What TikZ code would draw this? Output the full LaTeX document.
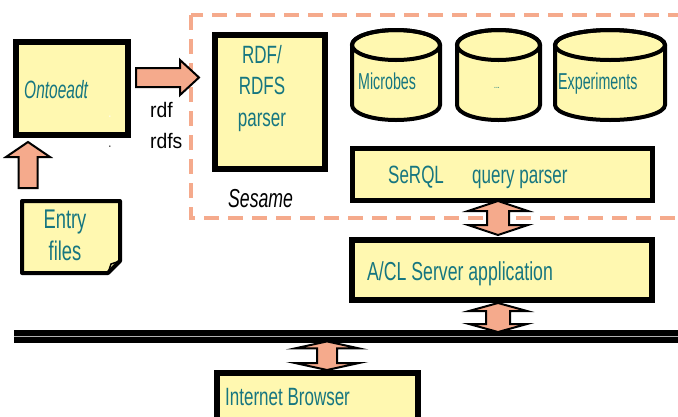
\documentclass[tikz,border=0pt]{standalone}
\usepackage{fontspec}
\setmainfont{Liberation Sans}[FakeStretch=0.68]
\newfontfamily\plainfont{Liberation Sans}[FakeStretch=0.92]
\newfontfamily\narrowfont{Liberation Sans}[FakeStretch=0.62]
\usetikzlibrary{calc}
\definecolor{yel}{RGB}{255,248,176}
\definecolor{salmon}{RGB}{245,170,140}
\definecolor{tealtxt}{RGB}{22,118,128}
\newcommand\vdouble[5]{%
  \filldraw[blockarrow] let \p1=#1, \p2=#2 in
  (\x1,\y1) -- (\x1+#4,\y1-#5) -- (\x1+#3,\y1-#5) -- (\x1+#3,\y2+#5) -- (\x1+#4,\y2+#5)
  -- (\x1,\y2) -- (\x1-#4,\y2+#5) -- (\x1-#3,\y2+#5) -- (\x1-#3,\y1-#5) -- (\x1-#4,\y1-#5) -- cycle;}
\newcommand\dbcyl[4]{%
  \pgfmathsetmacro\cx{(#1+#2)/2}\pgfmathsetmacro\rx{(#2-#1)/2}
  \filldraw[fill=yel, draw=black, line width=4pt] (#1,#3+15) -- (#1,#4-15)
    arc[start angle=180, end angle=0, x radius=\rx, y radius=15] -- (#2,#3+15)
    arc[start angle=0, end angle=-180, x radius=\rx, y radius=15] -- cycle;
  \draw[line width=4pt] (\cx,#3+15) ellipse[x radius=\rx, y radius=15];}
\begin{document}
\begin{tikzpicture}[x=1pt,y=-1pt,
  box/.style={draw=black, fill=yel, line width=6pt, inner sep=0pt},
  blockarrow/.style={fill=salmon, draw=black, line width=2pt, line join=miter},
  lbl/.style={text=tealtxt, inner sep=0pt, anchor=base west},
  lblc/.style={text=tealtxt, inner sep=0pt, anchor=base},
  ]
\useasboundingbox (0,0) rectangle (678,416);
% Sesame frame
\draw[salmon, line width=4pt, dash pattern=on 15pt off 9pt] (191,15) rectangle (690,218);
% boxes
\node[box, minimum width=112, minimum height=93] (onto) at (72,88.5) {};
\node[box, minimum width=110, minimum height=134] (rdf) at (270,102) {};
\node[box, line width=5pt, minimum width=300, minimum height=52] (serql) at (502.5,174.5) {};
\node[box, minimum width=300, minimum height=60] (acl) at (502,270) {};
\node[box, minimum width=201, minimum height=54] (ib) at (317.5,400) {};
% entry note
\filldraw[fill=yel, draw=black, line width=4pt, line join=round] (22,201) -- (120,201) -- (120,261) -- (108,273) -- (22,273) -- cycle;
\draw[line width=1.5pt] (108,273) -- (111,264) -- (120,261);
\coordinate (entrytop) at (71,199);
% databases
\dbcyl{352}{440}{30}{120}
\dbcyl{457}{540}{30}{120}
\dbcyl{555}{665}{30}{120}
% network bar
\node[fill=black, inner sep=0pt, minimum width=690, minimum height=13, anchor=north west] (bar) at (14,330) {};
\draw[gray!60, line width=0.8pt] (bar.west) -- (bar.east);
% block arrows
\filldraw[blockarrow] let \p1=($(onto.south west)+(15,4)$), \p2=($(entrytop)+(-40,-11)$) in
  (\x1,\y1) -- (\x1+22pt,\y1-15pt) -- (\x1+9.5pt,\y1-15pt) -- (\x1+9.5pt,\y2) -- (\x1-9.5pt,\y2)
  -- (\x1-9.5pt,\y1-15pt) -- (\x1-22pt,\y1-15pt) -- cycle;
\filldraw[blockarrow] let \p1=($(onto.east)+(5,-11)$), \p2=($(rdf.west)+(-13,-24.5)$) in
  (\x1,\y1+9.5pt) -- (\x2-19pt,\y1+9.5pt) -- (\x2-19pt,\y1+17.5pt) -- (\x2,\y1)
  -- (\x2-19pt,\y1-17.5pt) -- (\x2-19pt,\y1-9.5pt) -- (\x1,\y1-9.5pt) -- cycle;
\vdouble{($(serql.south)+(-4.5,-2)$)}{($(acl.north)+(-4,-2)$)}{11pt}{30pt}{10pt}
\vdouble{($(acl.south)+(-4,0)$)}{($(bar.north -| acl.south)+(-4,2)$)}{12pt}{29pt}{8pt}
\vdouble{($(bar.south -| ib.north)+(9.5,-2)$)}{($(ib.north)+(9.5,0)$)}{10pt}{32pt}{7pt}
% texts
\node[lbl, font=\narrowfont\fontsize{25}{28}\selectfont\itshape] (ontot) at (24,98) {Ontoeadt};
\node[text=white, inner sep=0pt, anchor=base, font=\fontsize{14}{14}\selectfont] (wdot) at (110,117) {.};
\node[text=black, inner sep=0pt, anchor=base, font=\fontsize{14}{14}\selectfont] (bdot) at (110,147) {.};
\node[lblc, font=\fontsize{27}{32}\selectfont] (entry1) at (65,228) {Entry};
\node[lblc, font=\fontsize{27}{32}\selectfont] (entry2) at (65,260) {files};
\node[inner sep=0pt, anchor=base west, font=\plainfont\fontsize{21}{24}\selectfont] (rdflbl) at (150,117) {rdf};
\node[inner sep=0pt, anchor=base west, font=\plainfont\fontsize{21}{24}\selectfont] (rdfslbl) at (150,148) {rdfs};
\node[lblc, font=\fontsize{25}{28}\selectfont] (rdf1) at (262,63) {RDF/};
\node[lblc, font=\fontsize{25}{28}\selectfont] (rdf2) at (262,94) {RDFS};
\node[lblc, font=\fontsize{25}{28}\selectfont] (rdf3) at (262,126) {parser};
\node[inner sep=0pt, anchor=base west, font=\fontsize{26}{28}\selectfont\itshape] (sesame) at (228,207) {Sesame};
\node[lbl, font=\narrowfont\fontsize{23}{26}\selectfont] (db1) at (358,89) {Microbes};
\node[lblc, font=\fontsize{10}{12}\selectfont] (db2) at (497,88) {...};
\node[lbl, font=\narrowfont\fontsize{23}{26}\selectfont] (db3) at (558,89) {Experiments};
\node[lbl, font=\fontsize{25}{28}\selectfont] (serqlt) at (388,183) {SeRQL};
\node[lbl, font=\fontsize{25}{28}\selectfont] (qpt) at (472,183) {query parser};
\node[lbl, font=\fontsize{26}{28}\selectfont] (aclt) at (367,280) {A/CL Server application};
\node[lbl, font=\fontsize{25}{28}\selectfont] (ibt) at (225,405) {Internet Browser};
\end{tikzpicture}
\end{document}
